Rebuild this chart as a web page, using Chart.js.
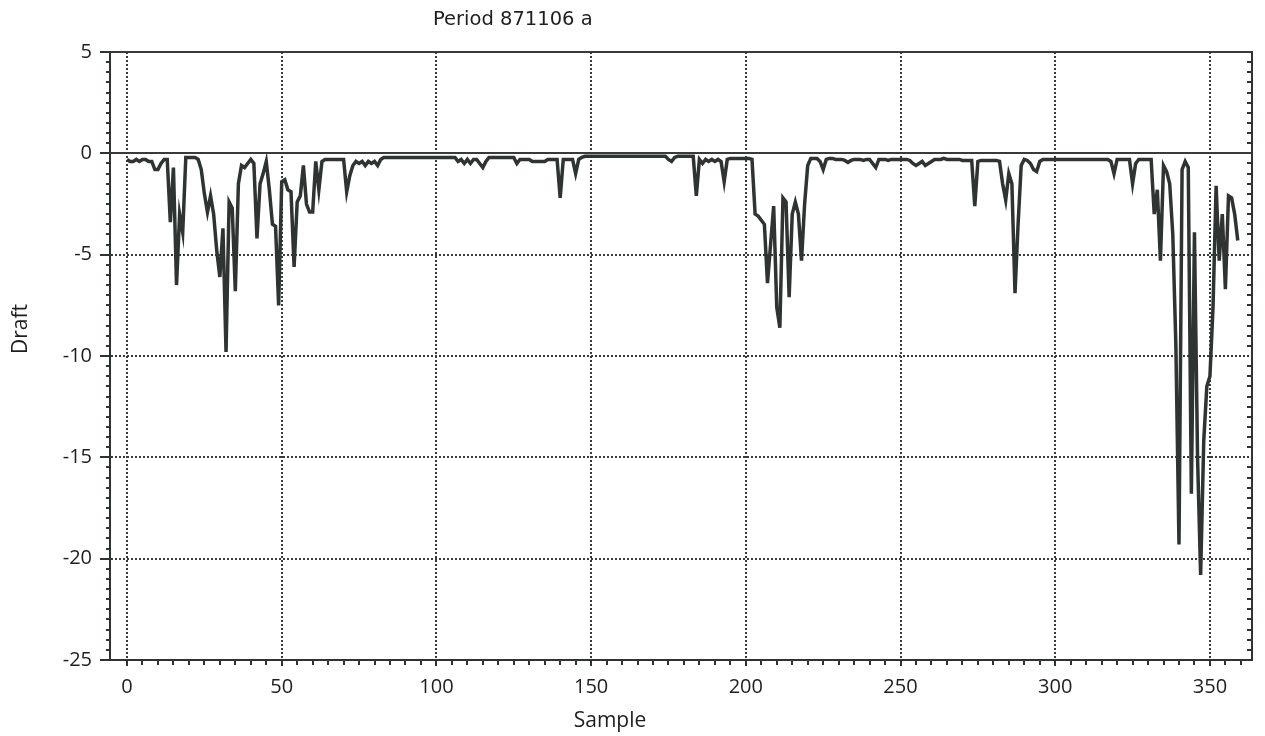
<!DOCTYPE html>
<html>
<head>
<meta charset="utf-8">
<script src="https://cdn.jsdelivr.net/npm/chart.js@4.4.0/dist/chart.umd.min.js"></script>
<style>
  html, body { margin: 0; padding: 0; background: #ffffff; }
  #wrap { position: relative; width: 1265px; height: 736px; }
</style>
</head>
<body>
<div id="wrap"><canvas id="c" width="1265" height="736"></canvas></div>
<script>
const chartTitle = 'Period 871106 a';
const xAxisTitle = 'Sample';
const yAxisTitle = 'Draft';
const xTicks = [0, 50, 100, 150, 200, 250, 300, 350];
const yTicks = [5, 0, -5, -10, -15, -20, -25];

// Draft per sample (samples 0..359)
const draft = [
  -0.3,-0.4,-0.4,-0.3,-0.4,-0.3,-0.3,-0.4,-0.4,-0.8,
  -0.8,-0.5,-0.3,-0.3,-3.4,-0.7,-6.5,-3.0,-3.9,-0.2,
  -0.2,-0.2,-0.2,-0.3,-0.8,-2.0,-2.9,-2.1,-3.0,-4.8,
  -6.1,-3.7,-9.8,-2.4,-2.7,-6.8,-1.5,-0.6,-0.7,-0.5,
  -0.3,-0.5,-4.2,-1.5,-1.0,-0.4,-1.8,-3.5,-3.6,-7.5,
  -1.4,-1.3,-1.8,-1.9,-5.6,-2.4,-2.1,-0.6,-2.5,-2.9,
  -2.9,-0.4,-1.8,-0.4,-0.3,-0.3,-0.3,-0.3,-0.3,-0.3,
  -0.3,-1.9,-1.1,-0.6,-0.4,-0.5,-0.4,-0.6,-0.4,-0.5,
  -0.4,-0.6,-0.3,-0.2,-0.2,-0.2,-0.2,-0.2,-0.2,-0.2,
  -0.2,-0.2,-0.2,-0.2,-0.2,-0.2,-0.2,-0.2,-0.2,-0.2,
  -0.2,-0.2,-0.2,-0.2,-0.2,-0.2,-0.2,-0.4,-0.3,-0.5,
  -0.3,-0.5,-0.3,-0.3,-0.5,-0.7,-0.4,-0.2,-0.2,-0.2,
  -0.2,-0.2,-0.2,-0.2,-0.2,-0.2,-0.5,-0.3,-0.3,-0.3,
  -0.3,-0.4,-0.4,-0.4,-0.4,-0.4,-0.3,-0.3,-0.3,-0.3,
  -2.2,-0.3,-0.3,-0.3,-0.3,-1.0,-0.3,-0.2,-0.15,-0.15,
  -0.15,-0.15,-0.15,-0.15,-0.15,-0.15,-0.15,-0.15,-0.15,-0.15,
  -0.15,-0.15,-0.15,-0.15,-0.15,-0.15,-0.15,-0.15,-0.15,-0.15,
  -0.15,-0.15,-0.15,-0.15,-0.15,-0.3,-0.4,-0.2,-0.15,-0.15,
  -0.15,-0.15,-0.15,-0.15,-2.1,-0.3,-0.5,-0.3,-0.4,-0.3,
  -0.4,-0.3,-0.4,-1.4,-0.3,-0.25,-0.25,-0.25,-0.25,-0.25,
  -0.25,-0.25,-0.3,-3.0,-3.1,-3.3,-3.5,-6.4,-4.5,-2.6,
  -7.6,-8.6,-2.2,-2.4,-7.1,-3.0,-2.4,-3.0,-5.3,-2.5,
  -0.6,-0.25,-0.25,-0.25,-0.4,-0.8,-0.3,-0.25,-0.25,-0.3,
  -0.3,-0.3,-0.35,-0.45,-0.35,-0.3,-0.3,-0.3,-0.35,-0.3,
  -0.3,-0.5,-0.7,-0.3,-0.3,-0.3,-0.35,-0.3,-0.3,-0.3,
  -0.3,-0.3,-0.3,-0.35,-0.5,-0.6,-0.5,-0.4,-0.6,-0.5,
  -0.4,-0.3,-0.3,-0.3,-0.25,-0.3,-0.3,-0.3,-0.3,-0.3,
  -0.35,-0.35,-0.35,-0.35,-2.6,-0.4,-0.35,-0.35,-0.35,-0.35,
  -0.35,-0.35,-0.4,-1.5,-2.3,-1.0,-1.5,-6.9,-3.5,-0.6,
  -0.3,-0.35,-0.5,-0.8,-0.9,-0.4,-0.3,-0.3,-0.3,-0.3,
  -0.3,-0.3,-0.3,-0.3,-0.3,-0.3,-0.3,-0.3,-0.3,-0.3,
  -0.3,-0.3,-0.3,-0.3,-0.3,-0.3,-0.3,-0.3,-0.4,-1.0,
  -0.3,-0.3,-0.3,-0.3,-0.3,-1.5,-0.5,-0.3,-0.3,-0.3,
  -0.3,-0.3,-3.0,-1.8,-5.3,-0.6,-0.9,-1.5,-4.0,-9.5,
  -19.3,-0.8,-0.4,-0.7,-16.8,-3.9,-15.0,-20.8,-14.2,-11.5,
  -11.0,-7.6,-1.6,-5.3,-3.0,-6.7,-2.1,-2.2,-3.0,-4.3
];
const samples = draft.map((_, i) => i);

const INK = '#2f3331';
const GRID = '#3a3a3a';

const decorPlugin = {
  id: 'decor',
  afterDraw(chart) {
    const ctx = chart.ctx;
    const a = chart.chartArea;
    const xs = chart.scales.x, ys = chart.scales.y;
    ctx.save();
    ctx.strokeStyle = INK;
    ctx.lineWidth = 2;
    // right border
    ctx.beginPath();
    ctx.moveTo(a.right, a.top - 1);
    ctx.lineTo(a.right, a.bottom + 1);
    ctx.stroke();
    // minor ticks on x axis (every 5)
    for (let v = 5; v < xs.max; v += 5) {
      if (v % 50 === 0) continue;
      const px = Math.round(xs.getPixelForValue(v));
      ctx.beginPath();
      ctx.moveTo(px, a.bottom);
      ctx.lineTo(px, a.bottom + 5);
      ctx.stroke();
    }
    // minor ticks on left and right y axes (every 0.5)
    for (let v = ys.min + 0.5; v < ys.max; v += 0.5) {
      if (Math.abs(v % 5) < 1e-6) continue;
      const py = Math.round(ys.getPixelForValue(v));
      ctx.beginPath();
      ctx.moveTo(a.left - 4, py);
      ctx.lineTo(a.left, py);
      ctx.moveTo(a.right, py);
      ctx.lineTo(a.right - 5, py);
      ctx.stroke();
    }
    // texts
    ctx.fillStyle = '#1e1e1e';
    ctx.font = '19.5px "DejaVu Sans", sans-serif';
    ctx.textAlign = 'left';
    ctx.textBaseline = 'alphabetic';
    ctx.fillText(chartTitle, 433, 25);
    ctx.font = '21px "Open Sans", sans-serif';
    ctx.textAlign = 'center';
    ctx.fillText(xAxisTitle, 610, 727);
    ctx.translate(27, 329);
    ctx.rotate(-Math.PI / 2);
    ctx.fillText(yAxisTitle, 0, 0);
    ctx.restore();
  }
};

new Chart(document.getElementById('c'), {
  type: 'line',
  data: {
    datasets: [{
      data: samples.map((s, i) => ({ x: s, y: draft[i] })),
      borderColor: INK,
      borderWidth: 3.5,
      pointRadius: 0,
      tension: 0,
      fill: false
    }]
  },
  options: {
    responsive: false,
    animation: false,
    devicePixelRatio: 1,
    layout: { padding: { top: 52, right: 13, left: 0, bottom: 0 } },
    plugins: { legend: { display: false }, title: { display: false }, tooltip: { enabled: false } },
    scales: {
      x: {
        type: 'linear',
        min: -5.5,
        max: 363.6,
        afterBuildTicks: s => { s.ticks = xTicks.map(v => ({ value: v })); },
        afterFit: s => { s.height = 76; },
        ticks: {
          autoSkip: false, maxRotation: 0, padding: 9, color: '#1e1e1e',
          font: { family: '"Open Sans", sans-serif', size: 20 },
          callback: v => String(v)
        },
        grid: {
          color: GRID, lineWidth: 2, tickLength: 6, tickWidth: 2, tickColor: INK
        },
        border: { display: true, color: INK, width: 2, dash: [2, 2] }
      },
      y: {
        type: 'linear',
        min: -25,
        max: 5,
        afterBuildTicks: s => { s.ticks = yTicks.map(v => ({ value: v })); },
        afterFit: s => { s.width = 110; },
        ticks: {
          padding: 8, color: '#1e1e1e',
          font: { family: '"Open Sans", sans-serif', size: 20 },
          callback: v => String(v)
        },
        grid: {
          color: GRID, lineWidth: 2, tickLength: 10, tickWidth: 2, tickColor: INK
        },
        border: {
          display: true, color: INK, width: 2,
          dash: c => (c.tick && (c.tick.value === 5 || c.tick.value === 0)) ? [] : [2, 2]
        }
      }
    }
  },
  plugins: [decorPlugin]
});
</script>
</body>
</html>
